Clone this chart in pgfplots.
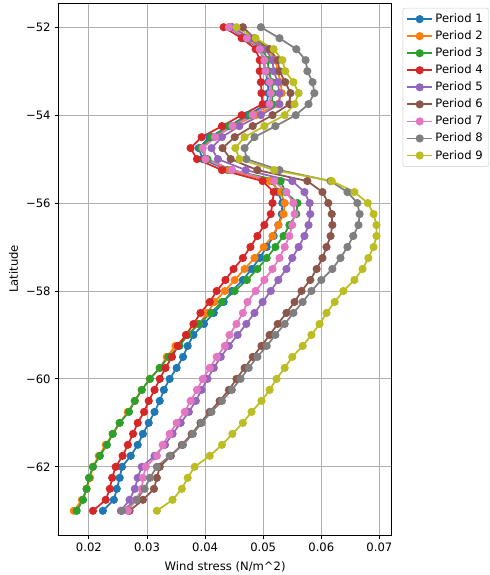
\documentclass[border=0pt]{standalone}
\usepackage{pgfplots}
\pgfplotsset{compat=1.18}
\usepackage{pgfplotstable}
\usepackage{fontspec}
\setmainfont{DejaVu Sans}
\definecolor{c0}{HTML}{1F77B4}
\definecolor{c1}{HTML}{FF7F0E}
\definecolor{c2}{HTML}{2CA02C}
\definecolor{c3}{HTML}{D62728}
\definecolor{c4}{HTML}{9467BD}
\definecolor{c5}{HTML}{8C564B}
\definecolor{c6}{HTML}{E377C2}
\definecolor{c7}{HTML}{7F7F7F}
\definecolor{c8}{HTML}{BCBD22}
\definecolor{gridc}{HTML}{B0B0B0}
\pgfplotstableread{
lat p1 p2 p3 p4 p5 p6 p7 p8 p9
-52 0.0441 0.0446 0.0442 0.0432 0.0447 0.0465 0.0441 0.0496 0.0454
-52.25 0.0468 0.0478 0.0472 0.0463 0.0478 0.0485 0.0472 0.0528 0.0487
-52.5 0.0494 0.0508 0.0499 0.0487 0.0504 0.0511 0.0494 0.0557 0.0518
-52.75 0.0501 0.0521 0.0508 0.0494 0.0516 0.0525 0.0502 0.0573 0.0533
-53 0.0504 0.0525 0.0509 0.0494 0.0518 0.0528 0.0504 0.0576 0.0538
-53.25 0.0508 0.0530 0.0515 0.0496 0.0525 0.0538 0.0511 0.0585 0.0552
-53.5 0.0509 0.0532 0.0516 0.0497 0.0528 0.0547 0.0513 0.0588 0.0561
-53.75 0.0506 0.0525 0.0515 0.0499 0.0528 0.0545 0.0511 0.0578 0.0554
-54 0.0473 0.0487 0.0478 0.0463 0.0496 0.0516 0.0482 0.0556 0.0537
-54.25 0.0441 0.0449 0.0442 0.0429 0.0459 0.0482 0.0447 0.0521 0.0502
-54.5 0.0408 0.0415 0.0411 0.0394 0.0429 0.0451 0.0417 0.0485 0.0468
-54.75 0.0389 0.0394 0.0392 0.0375 0.0411 0.0430 0.0396 0.0468 0.0452
-55 0.0396 0.0401 0.0404 0.0386 0.0422 0.0444 0.0401 0.0471 0.0459
-55.25 0.0439 0.0442 0.0446 0.0429 0.0470 0.0490 0.0446 0.0528 0.0519
-55.5 0.0516 0.0511 0.0530 0.0499 0.0550 0.0576 0.0519 0.0616 0.0618
-55.75 0.0525 0.0530 0.0538 0.0518 0.0571 0.0602 0.0540 0.0645 0.0657
-56 0.0533 0.0537 0.0559 0.0516 0.0580 0.0612 0.0552 0.0662 0.0680
-56.25 0.0532 0.0535 0.0557 0.0513 0.0581 0.0618 0.0554 0.0666 0.0690
-56.5 0.0526 0.0526 0.0545 0.0502 0.0578 0.0619 0.0550 0.0664 0.0695
-56.75 0.0518 0.0516 0.0535 0.0490 0.0571 0.0616 0.0545 0.0655 0.0695
-57 0.0506 0.0501 0.0521 0.0478 0.0561 0.0609 0.0537 0.0645 0.0690
-57.25 0.0494 0.0485 0.0506 0.0465 0.0550 0.0602 0.0528 0.0633 0.0681
-57.5 0.0480 0.0468 0.0490 0.0449 0.0540 0.0592 0.0516 0.0619 0.0671
-57.75 0.0465 0.0451 0.0472 0.0435 0.0526 0.0581 0.0502 0.0600 0.0657
-58 0.0446 0.0434 0.0451 0.0420 0.0513 0.0566 0.0487 0.0583 0.0638
-58.25 0.0432 0.0416 0.0429 0.0408 0.0499 0.0554 0.0473 0.0568 0.0623
-58.5 0.0415 0.0404 0.0410 0.0392 0.0485 0.0540 0.0465 0.0552 0.0609
-58.75 0.0398 0.0389 0.0389 0.0380 0.0471 0.0525 0.0454 0.0537 0.0597
-59 0.0380 0.0370 0.0370 0.0367 0.0456 0.0511 0.0442 0.0521 0.0583
-59.25 0.0370 0.0349 0.0356 0.0353 0.0441 0.0497 0.0434 0.0506 0.0568
-59.5 0.0362 0.0334 0.0337 0.0343 0.0427 0.0482 0.0420 0.0490 0.0550
-59.75 0.0351 0.0322 0.0322 0.0332 0.0415 0.0468 0.0408 0.0475 0.0537
-60 0.0339 0.0305 0.0305 0.0322 0.0404 0.0454 0.0396 0.0461 0.0523
-60.25 0.0329 0.0291 0.0291 0.0313 0.0394 0.0441 0.0386 0.0446 0.0511
-60.5 0.0322 0.0279 0.0279 0.0303 0.0384 0.0425 0.0375 0.0429 0.0497
-60.75 0.0313 0.0267 0.0269 0.0295 0.0372 0.0408 0.0365 0.0411 0.0480
-61 0.0303 0.0253 0.0253 0.0284 0.0358 0.0392 0.0351 0.0394 0.0465
-61.25 0.0293 0.0241 0.0241 0.0276 0.0344 0.0377 0.0339 0.0379 0.0447
-61.5 0.0284 0.0229 0.0231 0.0267 0.0331 0.0360 0.0327 0.0362 0.0429
-61.75 0.0272 0.0217 0.0219 0.0258 0.0313 0.0341 0.0317 0.0339 0.0408
-62 0.0257 0.0207 0.0207 0.0246 0.0291 0.0322 0.0298 0.0317 0.0382
-62.25 0.0253 0.0202 0.0200 0.0240 0.0284 0.0317 0.0293 0.0305 0.0370
-62.5 0.0248 0.0196 0.0196 0.0236 0.0279 0.0312 0.0291 0.0296 0.0360
-62.75 0.0243 0.0188 0.0190 0.0229 0.0270 0.0293 0.0281 0.0282 0.0344
-63 0.0224 0.0174 0.0179 0.0207 0.0255 0.0270 0.0267 0.0257 0.0317
}\data
\begin{document}
\begin{tikzpicture}[x=1pt,y=1pt]
\useasboundingbox (-50.6,-34.5) rectangle (371.8,461.2);
\begin{axis}[
  at={(0,0)}, anchor=south west,
  scale only axis, width=287pt, height=458.6pt,
  xmin=0.0148, xmax=0.0721, ymin=-63.55, ymax=-51.45,
  scaled x ticks=false, scaled y ticks=false,
  xtick={0.02,0.03,0.04,0.05,0.06,0.07},
  xticklabels={0.02,0.03,0.04,0.05,0.06,0.07},
  ytick={-62,-60,-58,-56,-54,-52},
  yticklabels={−62,−60,−58,−56,−54,−52},
  grid=major,
  grid style={line width=0.8pt, color=gridc},
  axis line style={line width=0.8pt},
  tick style={line width=0.8pt, black},
  tick align=outside, tick pos=left, major tick length=3.5pt,
  xlabel={Wind stress (N/m\textasciicircum 2)},
  xlabel style={yshift=-1.5pt},
  ylabel={Latitude},
  label style={font=\fontsize{10}{12}\selectfont},
  ticklabel style={font=\fontsize{10}{12}\selectfont},
  legend cell align=left,
  legend style={at={(1.033,0.991)}, anchor=north west, draw=black!20, rounded corners=2pt,
    font=\fontsize{10}{12}\selectfont, row sep=1.6pt, inner xsep=3pt, inner ysep=3pt},
  legend image code/.code={\draw[mark repeat=2,mark phase=2] plot coordinates {(0cm,0cm) (0.38cm,0cm) (0.76cm,0cm)};},
  every axis plot/.append style={line width=1.5pt, mark=*, mark size=3pt, mark options={line width=1pt, solid}},
]
\addplot[c0] table[x=p1,y=lat]{\data};
\addplot[c1] table[x=p2,y=lat]{\data};
\addplot[c2] table[x=p3,y=lat]{\data};
\addplot[c3] table[x=p4,y=lat]{\data};
\addplot[c4] table[x=p5,y=lat]{\data};
\addplot[c5] table[x=p6,y=lat]{\data};
\addplot[c6] table[x=p7,y=lat]{\data};
\addplot[c7] table[x=p8,y=lat]{\data};
\addplot[c8] table[x=p9,y=lat]{\data};
\legend{Period 1,Period 2,Period 3,Period 4,Period 5,Period 6,Period 7,Period 8,Period 9}
\end{axis}
\end{tikzpicture}
\end{document}
